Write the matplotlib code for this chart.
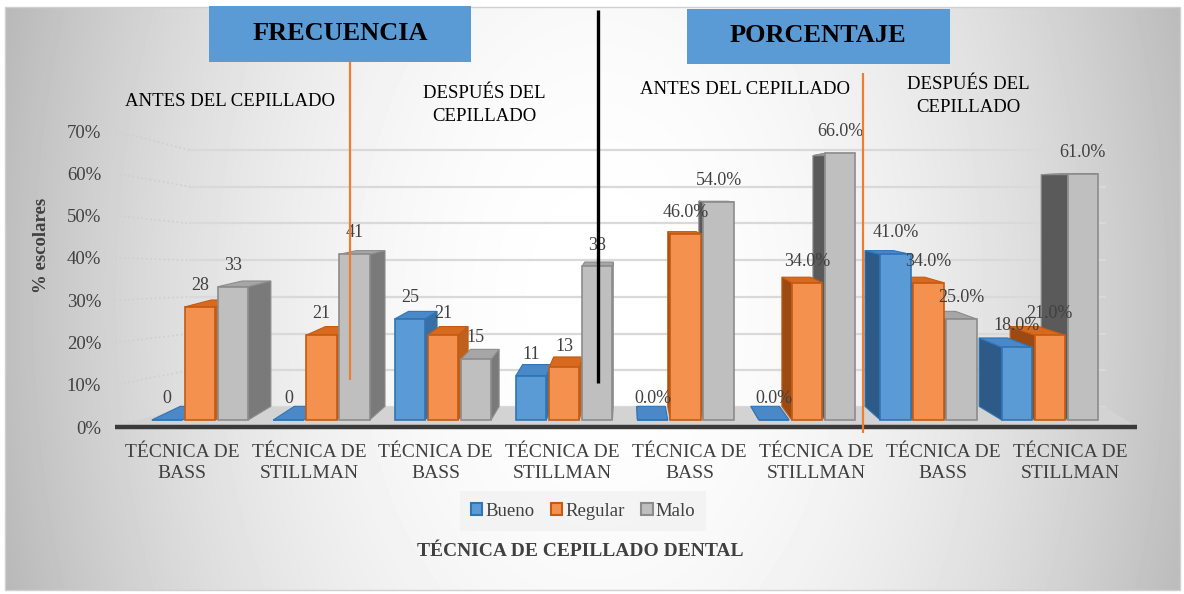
import numpy as np
import matplotlib
matplotlib.use('Agg')
import matplotlib.pyplot as plt
from matplotlib.patches import Rectangle, Polygon, Patch

plt.rcParams['font.family'] = ['Liberation Serif', 'DejaVu Serif']

# datos
categorias = ['TÉCNICA DE\nBASS', 'TÉCNICA DE\nSTILLMAN'] * 4
bueno = [0, 0, 25, 11, 0.0, 0.0, 41.0, 18.0]
regular = [28, 21, 21, 13, 46.0, 34.0, 34.0, 21.0]
malo = [33, 41, 15, 38, 54.0, 66.0, 25.0, 61.0]
es_pct = [False, False, False, False, True, True, True, True]
series = ['Bueno', 'Regular', 'Malo']
yticks = [0, 10, 20, 30, 40, 50, 60, 70]

gris = '#404040'
c_front = {'Bueno': '#5b9bd5', 'Regular': '#f4914f', 'Malo': '#bfbfbf'}
c_edge = {'Bueno': '#2e75b6', 'Regular': '#c55a11', 'Malo': '#8c8c8c'}
c_side_r = {'Bueno': '#3a6fa3', 'Regular': '#c0601e', 'Malo': '#7a7a7a'}
c_side_l = {'Bueno': '#2e5a87', 'Regular': '#9c4a14', 'Malo': '#5a5a5a'}
c_top = {'Bueno': '#4a88c8', 'Regular': '#d86a20', 'Malo': '#a6a6a6'}

W, H = 1184, 594
fig = plt.figure(figsize=(W / 100, H / 100), dpi=100)

# fondo con degradado
bg = fig.add_axes([0, 0, 1, 1], zorder=0)
bg.set_xlim(0, W)
bg.set_ylim(H, 0)
bg.axis('off')
xx, yy = np.meshgrid(np.linspace(5, 1180, 300), np.linspace(7, 590, 150))
d = np.sqrt(((xx - 600) / 580.0) ** 2 + ((yy - 300) / 900.0) ** 2)
grad = 1 - 0.24 * np.clip(d, 0, 1.3) ** 2
bg.imshow(grad, extent=(5, 1180, 590, 7), cmap='gray', vmin=0, vmax=1,
          aspect='auto', interpolation='bilinear')
bg.add_patch(Rectangle((5, 7), 1175, 583, fill=False, edgecolor='#d0d0d0', lw=1))

box = [115 / W, (H - 427) / H, (1137 - 115) / W, (427 - 131) / H]

# ejes frontales: ticks, piso, pared
ax = fig.add_axes(box, zorder=1)
ax.set_facecolor('none')
ax.set_xlim(-0.528, 7.526)
ax.set_ylim(0, 70)
for s in ax.spines.values():
    s.set_visible(False)
ax.set_yticks(yticks)
ax.set_yticklabels([f'{v}%' for v in yticks], fontsize=13.5, color=gris)
ax.set_xticks(range(len(categorias)))
ax.set_xticklabels(categorias, fontsize=14, color=gris, linespacing=1.3)
ax.tick_params(length=0, pad=10)
ax.tick_params(axis='x', pad=12)

wl, wr, w0, ws = 0.063, 7.273, 4.73, 0.868
for v in yticks:
    yb = w0 + ws * v
    ax.plot([wl, wr], [yb, yb], color='#d9d9d9', lw=1.6, zorder=1)
    ax.plot([-0.528, wl], [v, yb], color='#cfcfcf', lw=1.2, ls=':', zorder=1)
ax.add_patch(Polygon([(-0.528, 0), (7.526, 0), (wr, w0), (wl, w0)],
                     closed=True, facecolor='#d3d3d3', edgecolor='none', zorder=2))
ax.plot([-0.528, 7.526], [0, 0], color='#3a3a3a', lw=3.2, zorder=3,
        solid_capstyle='butt', clip_on=False)

# ejes de las barras (plano de las barras con perspectiva)
axb = fig.add_axes(box, zorder=2)
axb.set_facecolor('none')
axb.axis('off')
axb.set_xlim(-0.7002, 7.718)
axb.set_ylim(-1.733, 71.53)

vx, vy, r, t = 3.509, 36.4, 0.94, 1.2
ancho = 0.25
off = {'Bueno': -0.272, 'Regular': 0.0, 'Malo': 0.272}
valores = {'Bueno': bueno, 'Regular': regular, 'Malo': malo}


def atras(x, y):
    return (vx + r * (x - vx), vy + r * (y - vy) + t)


x = np.arange(len(categorias))
for s in series:
    barras = axb.bar(x + off[s], valores[s], ancho, color=c_front[s],
                     edgecolor=c_edge[s], linewidth=1.2)
    for i, p in enumerate(barras.patches):
        x0 = p.get_x()
        x1 = x0 + p.get_width()
        h = p.get_height()
        c = x0 + p.get_width() / 2
        z = 10 + 5 * (6 - abs(c - vx))
        p.set_zorder(z)
        if c < vx:
            lado = [(x1, 0), (x1, h), atras(x1, h), atras(x1, 0)]
            col = c_side_r[s]
        else:
            lado = [(x0, 0), (x0, h), atras(x0, h), atras(x0, 0)]
            col = c_side_l[s]
        axb.add_patch(Polygon(lado, closed=True, facecolor=col,
                              edgecolor=c_edge[s], lw=0.8, zorder=z - 1))
        tapa = [(x0, h), (x1, h), atras(x1, h), atras(x0, h)]
        axb.add_patch(Polygon(tapa, closed=True, facecolor=c_top[s],
                              edgecolor=c_edge[s], lw=0.8, zorder=z - 0.5))
        txt = f'{h:.1f}%' if es_pct[i] else f'{h:.0f}'
        axb.text(c, h + 5.3, txt, ha='center', va='center', fontsize=13,
                 color=gris, zorder=200, clip_on=False)

# capa superior: cajas, lineas y textos
ov = fig.add_axes([0, 0, 1, 1], zorder=5)
ov.set_xlim(0, W)
ov.set_ylim(H, 0)
ov.axis('off')

ov.plot([598, 598], [10, 383], color='black', lw=2.4, solid_capstyle='butt')
ov.plot([350, 350], [62, 380], color='#ed7d31', lw=1.6, solid_capstyle='butt')
ov.plot([863, 863], [73, 433], color='#ed7d31', lw=1.6, solid_capstyle='butt')

ov.add_patch(Rectangle((209, 6), 262, 56, facecolor='#5b9bd5', edgecolor='none'))
ov.text(340, 33, 'FRECUENCIA', ha='center', va='center', fontsize=19,
        fontweight='bold', color='black')
ov.add_patch(Rectangle((687, 9), 263, 55, facecolor='#5b9bd5', edgecolor='none'))
ov.text(818, 36, 'PORCENTAJE', ha='center', va='center', fontsize=19,
        fontweight='bold', color='black')

ov.text(230, 102, 'ANTES DEL CEPILLADO', ha='center', va='center',
        fontsize=13.5, color='black')
ov.text(484, 105, 'DESPUÉS DEL\nCEPILLADO', ha='center', va='center',
        fontsize=13.5, color='black', linespacing=1.45)
ov.text(745, 90, 'ANTES DEL CEPILLADO', ha='center', va='center',
        fontsize=13.5, color='black')
ov.text(968, 96, 'DESPUÉS DEL\nCEPILLADO', ha='center', va='center',
        fontsize=13.5, color='black', linespacing=1.45)

ov.text(42, 245, '% escolares', ha='center', va='center', rotation=90,
        fontsize=13.5, fontweight='bold', color=gris)
ov.text(580, 551, 'TÉCNICA DE CEPILLADO DENTAL', ha='center', va='center',
        fontsize=14, fontweight='bold', color=gris)

handles = [Patch(facecolor=c_front[s], edgecolor=c_edge[s], lw=1.5) for s in series]
leg = fig.legend(handles, series, loc='center', bbox_to_anchor=(583 / W, 1 - 511 / H),
                 ncol=3, fontsize=13.5, frameon=True, handlelength=0.6, handleheight=0.6,
                 handletextpad=0.15, columnspacing=0.9, borderpad=0.6, fancybox=False)
leg.get_frame().set_facecolor('#f2f2f2')
leg.get_frame().set_edgecolor('none')
for tx in leg.get_texts():
    tx.set_color(gris)

fig.savefig('out.png', dpi=100)
